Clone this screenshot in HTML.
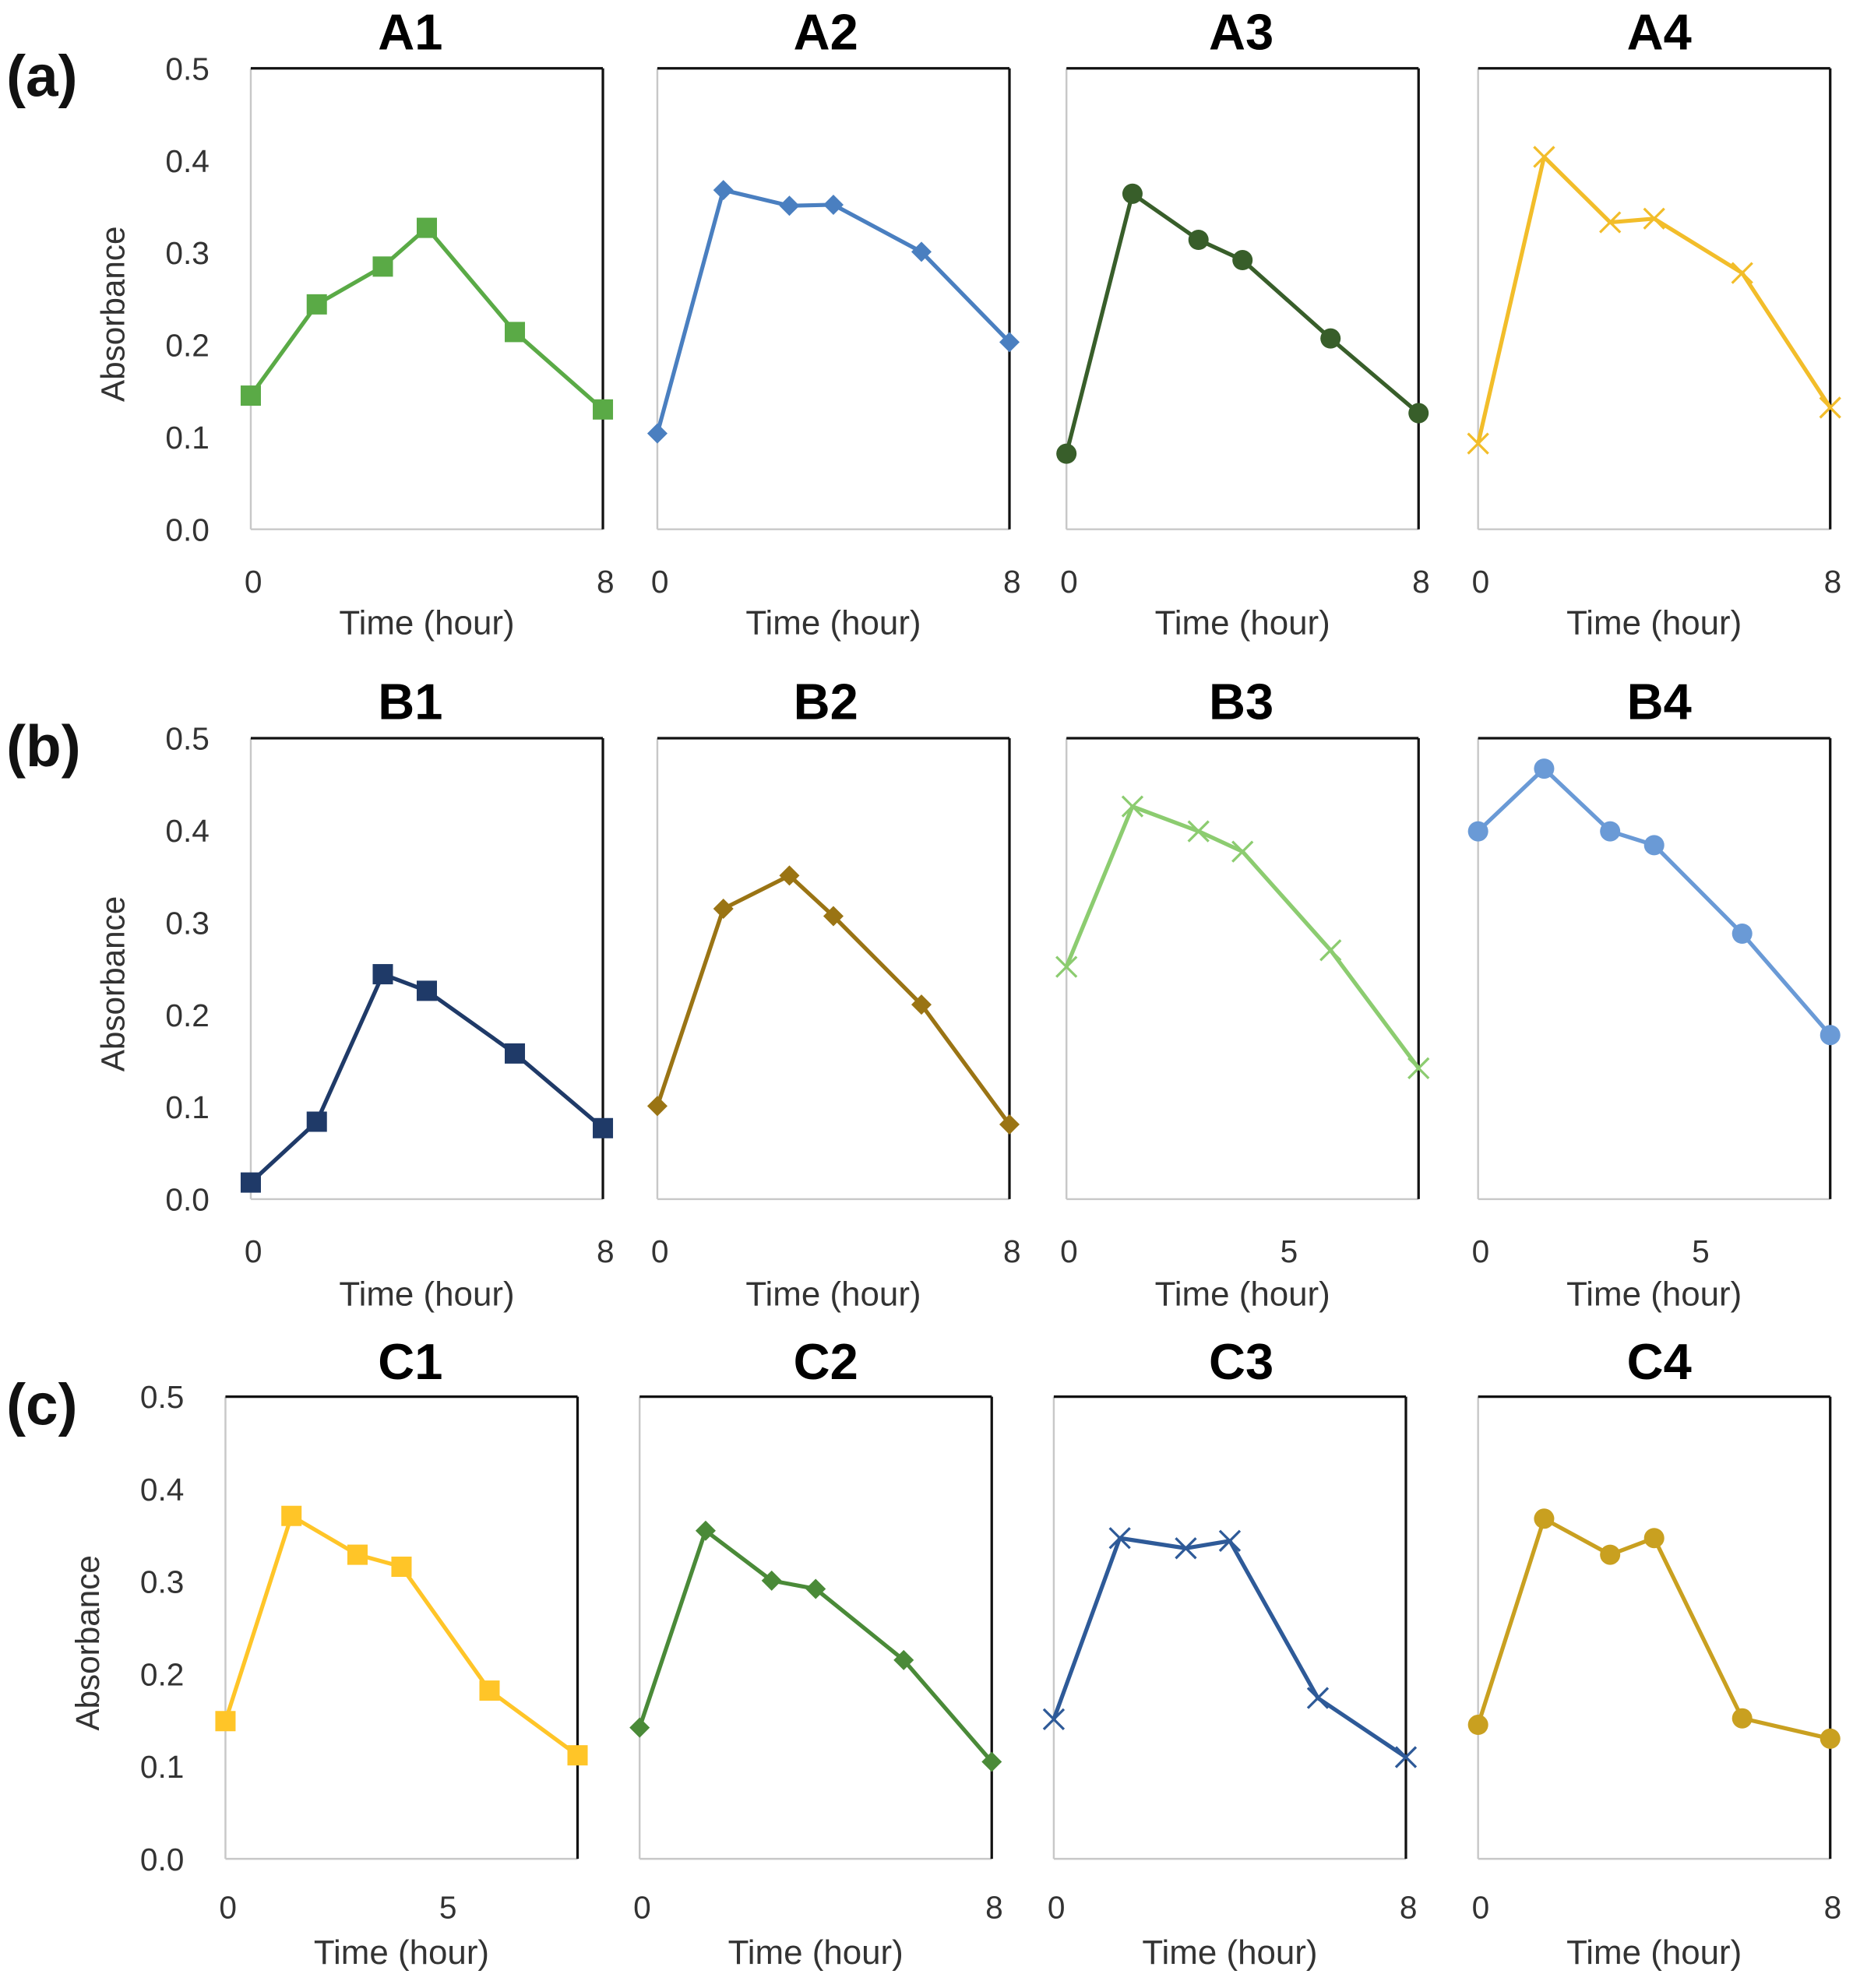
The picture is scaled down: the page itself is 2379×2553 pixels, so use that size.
<!DOCTYPE html>
<html><head><meta charset="utf-8"><style>
html,body{margin:0;padding:0;background:#fff;}
svg{display:block;}
text{font-family:"Liberation Sans",sans-serif;}
</style></head><body>
<svg id="fig" width="2379" height="2553" viewBox="0 0 1463 1570" preserveAspectRatio="none" xmlns="http://www.w3.org/2000/svg"></svg>
<script>
const times = [0, 1.5, 3, 4, 6, 8];
const panelNames = ["A1","A2","A3","A4","B1","B2","B3","B4","C1","C2","C3","C4"];
const valsA1 = [0.145,0.244,0.285,0.327,0.214,0.130];
const valsA2 = [0.104,0.368,0.351,0.352,0.301,0.203];
const valsA3 = [0.082,0.364,0.314,0.292,0.207,0.126];
const valsA4 = [0.093,0.404,0.333,0.337,0.278,0.132];
const valsB1 = [0.018,0.084,0.244,0.226,0.158,0.077];
const valsB2 = [0.101,0.315,0.351,0.307,0.211,0.081];
const valsB3 = [0.252,0.426,0.399,0.377,0.270,0.142];
const valsB4 = [0.399,0.467,0.399,0.384,0.288,0.178];
const valsC1 = [0.149,0.371,0.329,0.316,0.182,0.112];
const valsC2 = [0.142,0.355,0.301,0.292,0.215,0.105];
const valsC3 = [0.151,0.347,0.336,0.344,0.174,0.110];
const valsC4 = [0.145,0.368,0.329,0.347,0.152,0.130];
const yTicks = ["0.0","0.1","0.2","0.3","0.4","0.5"];
const xTicks8 = ["0","8"];
const xTicks5 = ["0","5"];
const rowLabels = ["(a)","(b)","(c)"];

const allVals=[valsA1,valsA2,valsA3,valsA4,valsB1,valsB2,valsB3,valsB4,valsC1,valsC2,valsC3,valsC4];
const colors=["#5aaa46","#4a7fc0","#385e2a","#f2bd2a","#1f3a68","#9a7414","#8ccc70","#6a9ad6","#ffc528","#4a8a38","#2e5a98","#c9a020"];
const markers=["sq","dia","circ","x","sq","dia","x","circ","sq","dia","x","circ"];
const titleX=[324,652,980,1310];
const rows=[{top:54,bot:418,tl:39,xl:468,xt:501,lx:[198,519,842,1167]},
            {top:583,bot:947,tl:568,xl:997,xt:1031,lx:[198,519,842,1167]},
            {top:1103,bot:1468,tl:1089,xl:1515,xt:1551,lx:[178,505,832,1167]}];
const W=278;
const svg=document.getElementById('fig');
const NS="http://www.w3.org/2000/svg";
function mk(tag,attrs,parent){const e=document.createElementNS(NS,tag);for(const k in attrs)e.setAttribute(k,attrs[k]);(parent||svg).appendChild(e);return e;}

rowLabels.forEach((t,r)=>{
  const e=mk('text',{x:5,y:rows[r].top+22,'font-size':46,'font-weight':'bold',fill:'#111'});
  e.textContent=t;
  
  
});

for(let p=0;p<12;p++){
  const r=Math.floor(p/4), c=p%4, R=rows[r];
  const L=R.lx[c], Rt=L+W;
  const xs=t=>L+t/8*W;
  const ys=v=>R.bot-(v/0.5)*(R.bot-R.top);
  const g=mk('g',{});
  
  
  const tt=mk('text',{x:titleX[c],y:R.tl,'font-size':40,'font-weight':'bold','text-anchor':'middle',fill:'#000'},g);
  tt.textContent=panelNames[p];
  
  
  mk('line',{x1:L,y1:R.top,x2:L,y2:R.bot,stroke:'#c8c8c8','stroke-width':1.5},g);
  mk('line',{x1:L,y1:R.bot,x2:Rt,y2:R.bot,stroke:'#c8c8c8','stroke-width':1.5},g);
  mk('line',{x1:L,y1:R.top,x2:Rt,y2:R.top,stroke:'#111','stroke-width':2},g);
  mk('line',{x1:Rt,y1:R.top,x2:Rt,y2:R.bot,stroke:'#111','stroke-width':2},g);
  if(c==0){
    yTicks.forEach((t,i)=>{
      const e=mk('text',{x:L-50,y:ys(i*0.1)+9,'font-size':25,'text-anchor':'middle',fill:'#333'},g);
      e.textContent=t;
      
      
    });
    const ax=L-100;const ay=(R.top+R.bot)/2+12;
    const e=mk('text',{x:ax,y:ay,'font-size':26,'text-anchor':'middle',fill:'#333',transform:`rotate(-90 ${ax} ${ay})`},g);
    e.textContent='Absorbance';
    
    
  }
  const xt=(p==6||p==7||p==8)?xTicks5:xTicks8;
  xt.forEach(t=>{
    const e=mk('text',{x:xs(+t)+2,y:R.xl,'font-size':25,'text-anchor':'middle',fill:'#333'},g);
    e.textContent=t;
    
    
  });
  const xa=mk('text',{x:(L+Rt)/2,y:R.xt,'font-size':27,'text-anchor':'middle',fill:'#333'},g);
  xa.textContent='Time (hour)';
  
  
  const vals=allVals[p], col=colors[p];
  const pts=vals.map((v,i)=>xs(times[i]).toFixed(1)+','+ys(v).toFixed(1)).join(' ');
  const ln=mk('polyline',{points:pts,fill:'none',stroke:col,'stroke-width':3.2,'stroke-linejoin':'round'},g);
  
  
  vals.forEach((v,i)=>{
    const x=xs(times[i]), y=ys(v); let m;
    if(markers[p]=='sq') m=mk('rect',{x:x-8,y:y-8,width:16,height:16,fill:col},g);
    else if(markers[p]=='dia') m=mk('polygon',{points:`${x},${y-8} ${x+8},${y} ${x},${y+8} ${x-8},${y}`,fill:col},g);
    else if(markers[p]=='circ') m=mk('circle',{cx:x,cy:y,r:8,fill:col},g);
    else m=mk('path',{d:`M${x-8} ${y-8}L${x+8} ${y+8}M${x+8} ${y-8}L${x-8} ${y+8}`,stroke:col,'stroke-width':2,fill:'none'},g);
    
    
  });
}
</script>
</body></html>
